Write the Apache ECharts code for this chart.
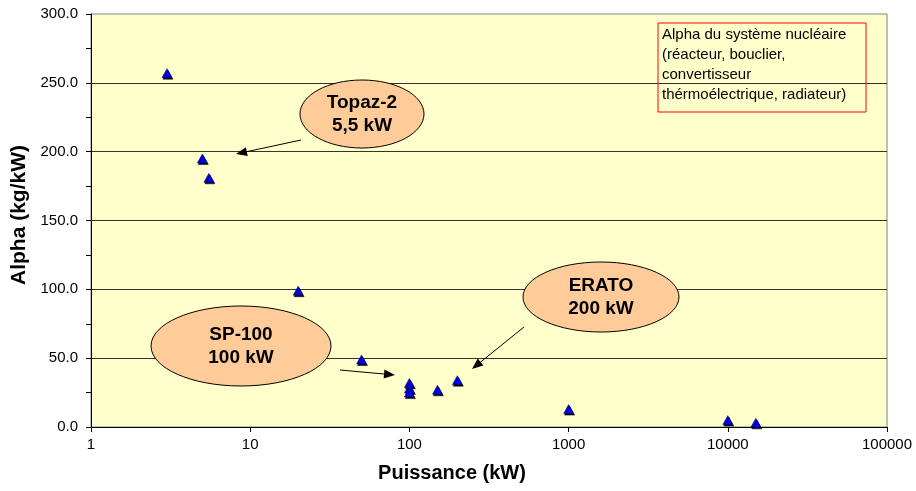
<!DOCTYPE html>
<html>
<head>
<meta charset="utf-8">
<script src="https://cdn.jsdelivr.net/npm/echarts@6/dist/echarts.min.js"></script>
<style>
html,body{margin:0;padding:0;background:#fff;}
#chart{width:916px;height:491px;}
</style>
</head>
<body>
<div id="chart"></div>
<script>
// Data
const powerKW = [3, 5, 5.5, 20, 50, 100, 100, 100, 150, 200, 1000, 10000, 15000];
const alphaKgPerKW = [257, 195, 181, 99, 49, 32, 28, 25, 27, 34, 13, 5, 3];
const yTicks = [0, 50, 100, 150, 200, 250, 300];
const xTicks = [1, 10, 100, 1000, 10000, 100000];
const xTitle = 'Puissance (kW)';
const yTitle = 'Alpha (kg/kW)';
const noteText = 'Alpha du système nucléaire\n(réacteur, bouclier,\nconvertisseur\nthérmoélectrique, radiateur)';
const callouts = [
  { text: 'Topaz-2\n5,5 kW' },
  { text: 'SP-100\n100 kW' },
  { text: 'ERATO\n200 kW' }
];

const FONT = '"Liberation Sans", Arial, sans-serif';
const chart = echarts.init(document.getElementById('chart'), null, { renderer: 'canvas' });

function arrow(x1, y1, x2, y2) {
  const dx = x2 - x1, dy = y2 - y1, L = Math.hypot(dx, dy);
  const ux = dx / L, uy = dy / L, hl = 11, hw = 4.5;
  const bx = x2 - ux * hl, by = y2 - uy * hl;
  return [
    { type: 'line', z: 100, shape: { x1, y1, x2: bx, y2: by }, style: { stroke: '#000', lineWidth: 1 } },
    { type: 'polygon', z: 100, shape: { points: [[x2, y2], [bx - uy * hw, by + ux * hw], [bx + uy * hw, by - ux * hw]] }, style: { fill: '#000' } }
  ];
}

function bubble(cx, cy, rx, ry, text) {
  return [
    { type: 'ellipse', z: 100, shape: { cx, cy, rx, ry }, style: { fill: '#FFCC99', stroke: '#000', lineWidth: 1 } },
    { type: 'text', z: 101, x: cx, y: cy, style: { text, font: 'bold 19px ' + FONT, fill: '#000', align: 'center', verticalAlign: 'middle', lineHeight: 23 } }
  ];
}

const pts = powerKW.map((p, i) => [p, alphaKgPerKW[i]]);

chart.setOption({
  animation: false,
  backgroundColor: '#fff',
  grid: { left: 91, right: 29, top: 14, bottom: 64, show: true, backgroundColor: '#FFFFCC', borderColor: '#808080', borderWidth: 1 },
  xAxis: {
    type: 'log', logBase: 10, min: xTicks[0], max: xTicks[xTicks.length - 1],
    axisLine: { show: true, lineStyle: { color: '#000', width: 1 } },
    axisTick: { show: true, length: 5, lineStyle: { color: '#000' } },
    minorTick: { show: false },
    splitLine: { show: false },
    axisLabel: { color: '#000', fontSize: 15, fontFamily: FONT, margin: 10, formatter: v => String(Math.round(v)) }
  },
  yAxis: {
    type: 'value', min: yTicks[0], max: yTicks[yTicks.length - 1], interval: 50,
    axisLine: { show: true, lineStyle: { color: '#000', width: 1 } },
    axisTick: { show: true, length: 5, lineStyle: { color: '#000' } },
    minorTick: { show: true, splitNumber: 2, length: 5, lineStyle: { color: '#000' } },
    splitLine: { show: true, showMinLine: false, showMaxLine: false, lineStyle: { color: '#333', width: 1 } },
    axisLabel: { color: '#000', fontSize: 15, fontFamily: FONT, margin: 13, formatter: v => v.toFixed(1) }
  },
  series: [{
    type: 'scatter',
    data: pts,
    symbol: 'triangle',
    symbolSize: [10, 9],
    itemStyle: { color: '#0000FF', borderColor: '#000060', borderWidth: 0.5, shadowColor: '#000', shadowOffsetX: 1, shadowOffsetY: 1.5, shadowBlur: 0, opacity: 1 },
    emphasis: { disabled: true },
    z: 5
  }],
  graphic: [
    ...bubble(362, 114, 62, 34, callouts[0].text),
    ...bubble(241, 346, 90, 40, callouts[1].text),
    ...bubble(601, 297, 78, 35, callouts[2].text),
    ...arrow(301, 140, 236, 154),
    ...arrow(340, 370, 395, 375),
    ...arrow(524, 327, 472, 369),
    { type: 'rect', z: 100, shape: { x: 658, y: 23, width: 208, height: 89 }, style: { fill: 'rgba(0,0,0,0)', stroke: '#FF0000', lineWidth: 1 } },
    { type: 'text', z: 101, x: 662, y: 25, style: { text: noteText, font: '15px ' + FONT, fill: '#000', align: 'left', verticalAlign: 'top', lineHeight: 20 } },
    { type: 'text', z: 101, x: 452, y: 473, style: { text: xTitle, font: 'bold 20px ' + FONT, fill: '#000', align: 'center', verticalAlign: 'middle' } },
    { type: 'text', z: 101, x: 19, y: 215, rotation: Math.PI / 2, style: { text: yTitle, font: 'bold 21px ' + FONT, fill: '#000', align: 'center', verticalAlign: 'middle' } }
  ]
});
</script>
</body>
</html>
